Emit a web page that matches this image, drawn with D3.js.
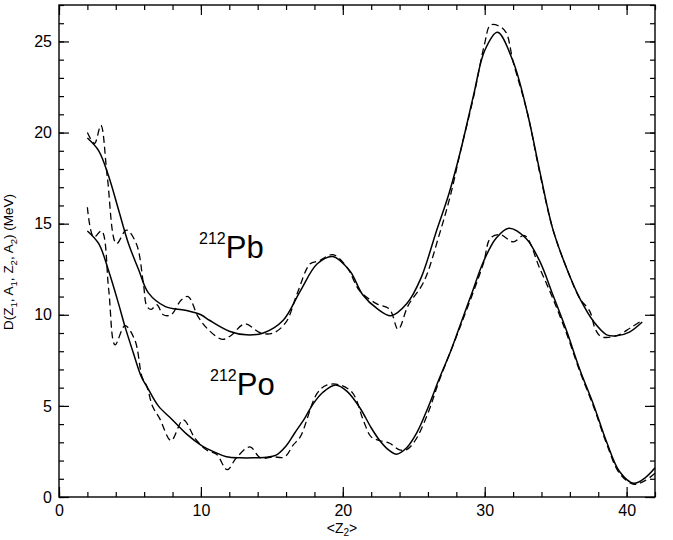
<!DOCTYPE html>
<html>
<head>
<meta charset="utf-8">
<script src="https://cdn.jsdelivr.net/npm/d3@7"></script>
<style>
  body { margin: 0; background: #fff; }
  svg { display: block; font-family: "Liberation Sans", Arial, Helvetica, sans-serif; }
  .tick line { stroke: #000; stroke-width: 1.2px; }
  .tick text { font-size: 16px; fill: #000; }
  .curve { fill: none; stroke: #000; }
</style>
</head>
<body>
<svg id="chart" width="673" height="540"></svg>
<script>
// 212Pb, smooth curve
const pbSmoothZ = [2.0, 2.8, 3.5, 4.2, 4.9, 5.6, 6.3, 7.5, 8.9, 10.0, 10.6, 12.0, 13.2, 14.4, 15.8, 17.0, 18.2, 19.3, 20.5, 21.4, 22.4, 23.4, 24.5, 25.5, 26.6, 27.5, 28.3, 29.2, 30.0, 30.9, 32.0, 33.0, 33.9, 34.8, 35.8, 36.7, 37.7, 38.6, 39.3, 40.2, 41.1];
const pbSmoothD = [19.7, 19.0, 17.6, 15.75, 13.9, 12.5, 11.2, 10.45, 10.25, 10.0, 9.7, 9.1, 8.9, 9.0, 9.7, 11.3, 12.8, 13.2, 12.4, 11.1, 10.35, 9.95, 10.6, 12.0, 14.6, 16.7, 19.0, 22.0, 24.5, 25.5, 23.9, 21.1, 17.8, 14.7, 12.5, 10.9, 9.6, 8.9, 8.85, 9.05, 9.6];

// 212Pb, dashed curve
const pbDashZ = [2.0, 2.5, 2.95, 3.4, 4.05, 4.75, 5.45, 5.95, 6.2, 6.5, 6.9, 7.35, 7.9, 8.6, 9.1, 9.8, 10.5, 11.5, 12.1, 13.1, 14.2, 15.1, 16.0, 16.8, 17.7, 18.3, 19.3, 20.3, 21.2, 22.4, 23.3, 23.9, 24.6, 25.7, 26.8, 27.6, 28.3, 29.2, 30.0, 30.4, 31.0, 31.5, 32.0, 33.0, 33.9, 34.8, 35.8, 36.7, 37.4, 37.8, 38.2, 39.3, 40.3, 41.1];
const pbDashD = [20.0, 19.4, 20.4, 17.6, 13.9, 14.65, 13.9, 11.7, 10.45, 10.3, 10.55, 10.0, 10.0, 10.8, 11.0, 9.9, 9.2, 8.65, 8.85, 9.5, 9.0, 9.0, 9.6, 11.2, 12.8, 12.95, 13.3, 12.6, 11.3, 10.6, 10.3, 9.2, 10.5, 11.8, 14.4, 16.6, 19.0, 21.9, 24.9, 25.9, 25.85, 25.5, 23.9, 21.1, 17.7, 14.7, 12.5, 10.9, 10.2, 9.2, 8.8, 8.85, 9.3, 9.7];

// 212Po, smooth curve
const poSmoothZ = [2.0, 2.8, 3.5, 4.2, 4.65, 5.2, 5.8, 6.2, 7.0, 8.0, 9.0, 10.0, 11.0, 11.8, 12.8, 13.7, 14.6, 15.3, 16.0, 16.6, 17.3, 17.9, 18.6, 19.5, 20.3, 21.2, 22.0, 22.6, 23.2, 23.8, 24.5, 25.2, 26.0, 26.8, 27.6, 28.3, 29.1, 29.9, 30.8, 31.7, 32.9, 33.9, 34.8, 35.8, 36.7, 37.7, 38.6, 39.5, 40.5, 41.3, 42.0];
const poSmoothD = [14.6, 13.9, 12.4, 10.6, 9.35, 8.0, 6.6, 6.05, 5.0, 4.23, 3.45, 2.85, 2.45, 2.21, 2.15, 2.15, 2.18, 2.3, 2.8, 3.5, 4.3, 5.1, 5.75, 6.15, 5.8, 4.9, 3.8, 3.1, 2.6, 2.35, 2.7, 3.5, 4.9, 6.5, 8.0, 9.5, 11.2, 12.9, 14.2, 14.75, 14.2, 12.9, 11.1, 9.05, 7.0, 5.0, 3.0, 1.4, 0.75, 1.05, 1.6];

// 212Po, dashed curve
const poDashZ = [2.0, 2.45, 3.0, 3.5, 3.95, 4.65, 5.35, 5.85, 6.2, 6.6, 7.1, 7.9, 8.75, 9.6, 10.4, 11.1, 11.85, 12.5, 13.45, 14.2, 15.1, 15.9, 16.5, 17.0, 18.2, 18.9, 19.8, 20.7, 21.45, 22.0, 22.6, 23.3, 24.0, 24.5, 25.1, 26.0, 26.8, 28.3, 29.9, 30.4, 31.1, 32.0, 32.8, 33.9, 34.8, 35.8, 36.7, 37.7, 38.6, 39.5, 40.5, 41.3, 42.0];
const poDashD = [15.9, 14.25, 14.6, 11.4, 8.35, 9.4, 8.6, 6.6, 6.05, 4.96, 4.3, 3.1, 4.23, 3.2, 2.58, 2.35, 1.5, 2.15, 2.75, 2.15, 2.2, 2.2, 2.85, 3.3, 5.7, 6.15, 6.15, 5.7, 4.2, 3.3, 3.1, 2.95, 2.58, 2.6, 3.1, 4.6, 6.4, 9.4, 12.8, 14.2, 14.4, 14.0, 14.35, 12.5, 10.9, 8.9, 6.9, 4.9, 2.9, 1.3, 0.7, 0.9, 1.3];

const xMinorTicks = d3.range(0, 43, 2);
const xMajorTicks = [0, 10, 20, 30, 40];
const yMinorTicks = d3.range(0, 28, 1);
const yMajorTicks = [0, 5, 10, 15, 20, 25];

const svg = d3.select("#chart");
const frame = { left: 59, right: 655, top: 5, bottom: 497 };

const x = d3.scaleLinear().domain([0, 42]).range([frame.left, frame.right]);
const y = d3.scaleLinear().domain([0, 27]).range([frame.bottom, frame.top]);

// axes: all ticks point into the frame
function addAxis(axis, tx, ty) {
  const g = svg.append("g").attr("transform", `translate(${tx},${ty})`).call(axis);
  g.select(".domain").remove();
  return g;
}
const noLabel = () => "";

addAxis(d3.axisBottom(x).tickValues(xMinorTicks).tickSize(-5).tickFormat(noLabel), 0, frame.bottom);
addAxis(d3.axisBottom(x).tickValues(xMajorTicks).tickSize(-10).tickPadding(8).tickFormat(d3.format("d")), 0, frame.bottom);
addAxis(d3.axisTop(x).tickValues(xMinorTicks).tickSize(-5).tickFormat(noLabel), 0, frame.top);
addAxis(d3.axisTop(x).tickValues(xMajorTicks).tickSize(-10).tickFormat(noLabel), 0, frame.top);

addAxis(d3.axisLeft(y).tickValues(yMinorTicks).tickSize(-5).tickFormat(noLabel), frame.left, 0);
addAxis(d3.axisLeft(y).tickValues(yMajorTicks).tickSize(-10).tickPadding(7).tickFormat(d3.format("d")), frame.left, 0);
addAxis(d3.axisRight(y).tickValues(yMinorTicks).tickSize(-5).tickFormat(noLabel), frame.right, 0);
addAxis(d3.axisRight(y).tickValues(yMajorTicks).tickSize(-10).tickFormat(noLabel), frame.right, 0);

svg.append("rect")
  .attr("x", frame.left).attr("y", frame.top)
  .attr("width", frame.right - frame.left).attr("height", frame.bottom - frame.top)
  .attr("fill", "none").attr("stroke", "#000").attr("stroke-width", 1.4);

// curves
const line = d3.line()
  .x(d => x(d[0]))
  .y(d => y(d[1]))
  .curve(d3.curveCatmullRom.alpha(0.5));

const series = [
  { z: pbSmoothZ, d: pbSmoothD, dash: null },
  { z: pbDashZ,   d: pbDashD,   dash: "7,4" },
  { z: poSmoothZ, d: poSmoothD, dash: null },
  { z: poDashZ,   d: poDashD,   dash: "7,4" }
];

svg.append("g").selectAll("path")
  .data(series)
  .join("path")
  .attr("class", "curve")
  .attr("d", s => line(d3.zip(s.z, s.d)))
  .attr("stroke-width", s => s.dash ? 1.3 : 1.5)
  .attr("stroke-dasharray", s => s.dash);

// nucleus labels
function nucleus(label, tx, ty) {
  const t = svg.append("text").attr("x", tx).attr("y", ty).attr("fill", "#000");
  t.append("tspan").attr("font-size", 16).attr("dy", -14).text("212");
  t.append("tspan").attr("font-size", 31).attr("dy", 14).text(label);
}
nucleus("Pb", 199, 258);
nucleus("Po", 210, 395);

// axis titles
const yTitle = svg.append("text")
  .attr("transform", "translate(13,262) rotate(-90)")
  .attr("text-anchor", "middle")
  .attr("font-size", 13.5);
[["D(Z", 0], ["1", 1], [", A", 0], ["1", 1], [", Z", 0], ["2", 1], [", A", 0], ["2", 1], [") (MeV)", 0]]
  .forEach(([s, sub], i, arr) => {
    const prev = i > 0 ? arr[i - 1][1] : 0;
    yTitle.append("tspan")
      .attr("dy", (sub - prev) * 4)
      .attr("font-size", sub ? 9.5 : 13.5)
      .text(s);
  });

const xTitle = svg.append("text")
  .attr("x", 342).attr("y", 533)
  .attr("text-anchor", "middle")
  .attr("font-size", 14);
xTitle.append("tspan").text("<Z");
xTitle.append("tspan").attr("font-size", 10).attr("dy", 3).text("2");
xTitle.append("tspan").attr("dy", -3).text(">");
</script>
</body>
</html>
